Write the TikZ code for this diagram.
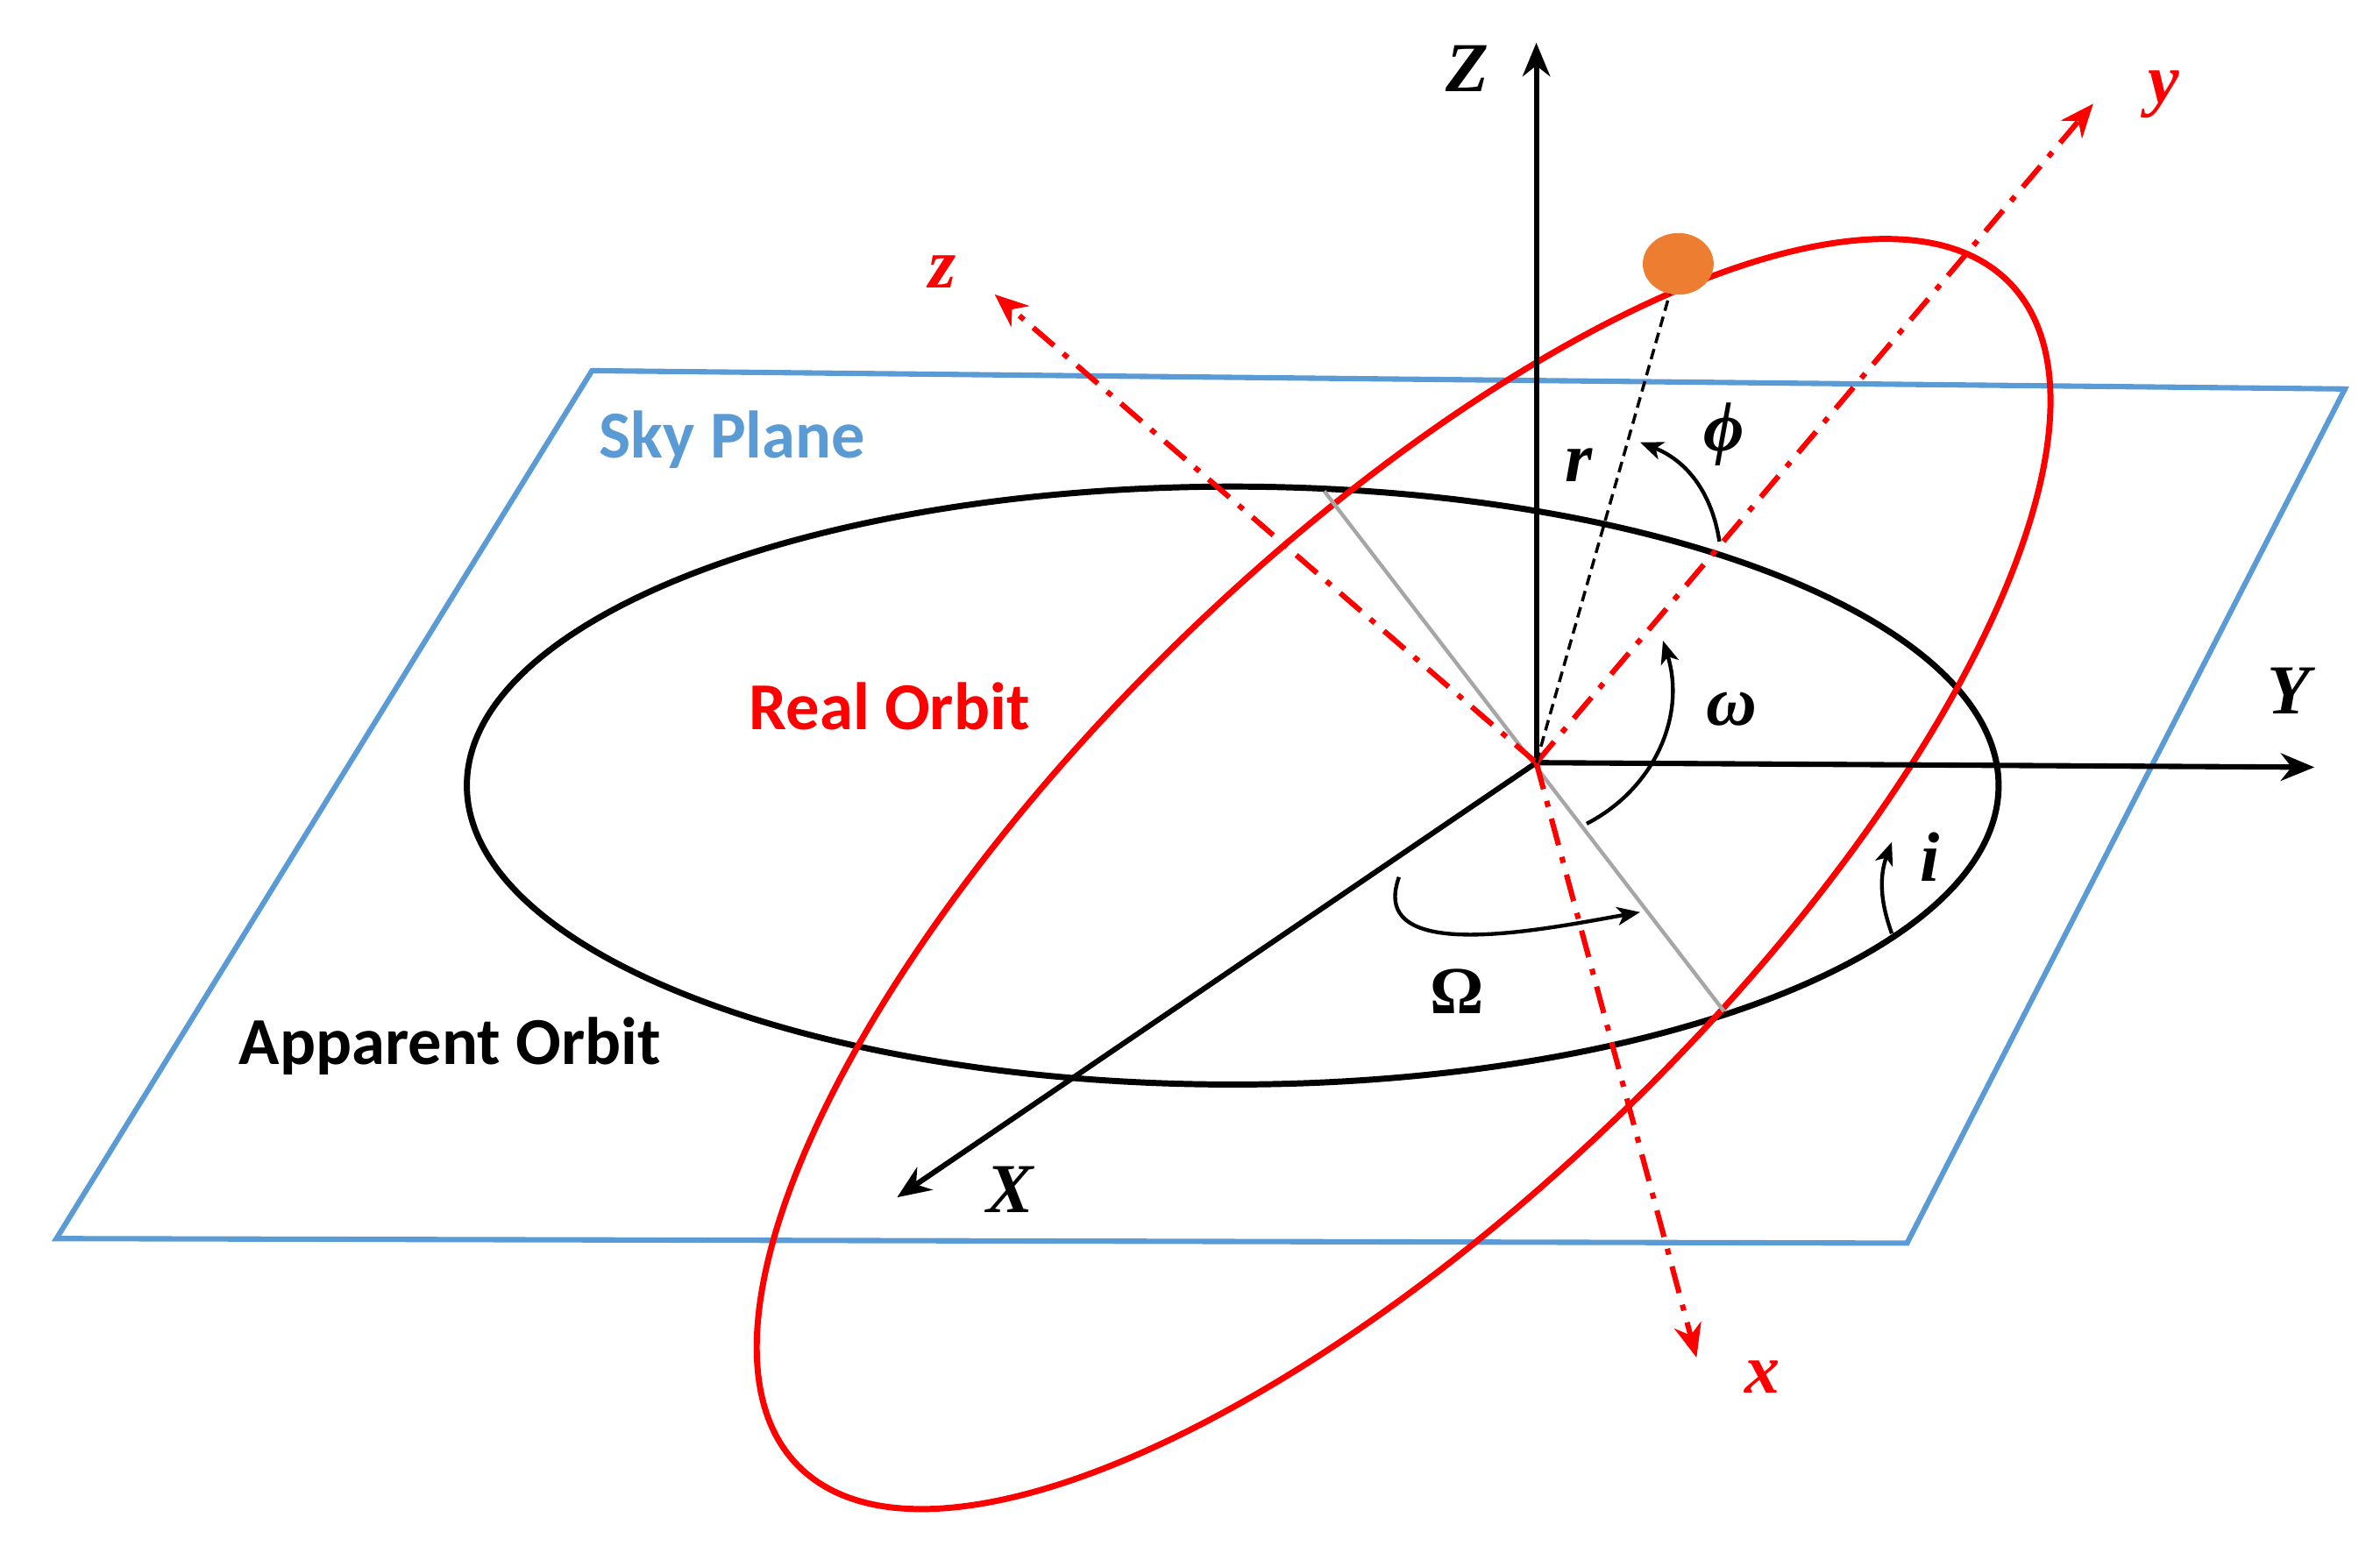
\documentclass[tikz,border=0pt]{standalone}
\usepackage{fontspec}
\setmainfont{Carlito}
\newfontfamily\gk{Liberation Serif}
\usetikzlibrary{arrows.meta,shapes.geometric}
\definecolor{skyb}{RGB}{91,155,213}
\definecolor{planet}{RGB}{237,125,49}
\begin{document}
\begin{tikzpicture}[x=1pt,y=-1pt,
  ax/.style={line width=3.5pt,-{Stealth[length=22pt,width=18pt,inset=7pt]}},
  rax/.style={red,line width=3.5pt,dash pattern=on 18pt off 8pt on 4pt off 8pt,-{Stealth[length=22pt,width=18pt,inset=7pt]}},
  ang/.style={line width=2.5pt,-{Stealth[length=15pt,width=12pt,inset=4pt]}},
  lab/.style={font=\gk\bfseries\itshape\fontsize{46}{46}\selectfont},
  txt/.style={font=\bfseries\fontsize{44}{44}\selectfont}]
\useasboundingbox (0,0) rectangle (1560,1013);
\coordinate (O) at (1007,500);
\draw[skyb,line width=3.5pt] (388,243) -- (1537,255) -- (1250,815) -- (37,812) -- cycle;
\draw[line width=4pt] (808,515) ellipse [x radius=502, y radius=196];
\draw[red,line width=4pt] (920,573) ellipse [x radius=555, y radius=212, rotate=44.3];
\coordinate (n1) at (868,322); \coordinate (n2) at (1130,663);
\draw[gray!70,line width=2.5pt] (n1) -- (n2);
\coordinate (Zt) at (1007,28); \coordinate (Yt) at (1517,503); \coordinate (Xt) at (588,785);
\draw[ax] (O) -- (Zt); \draw[ax] (O) -- (Yt); \draw[ax] (O) -- (Xt);
\node[lab] (Z) at (962,45) {Z};
\node[lab] (Y) at (1500,453) {Y};
\node[lab] (X) at (662,780) {X};
\coordinate (yt) at (1372,68); \coordinate (zt) at (652,193); \coordinate (xt) at (1112,890);
\draw[rax] (O) -- (yt); \draw[rax] (O) -- (zt); \draw[rax] (O) -- (xt);
\node[lab,red] (ly) at (1418,62) {y};
\node[lab,red] (lz) at (618,178) {z};
\node[lab,red] (lx) at (1155,903) {x};
\node[draw=planet,fill=planet,ellipse,minimum width=46pt,minimum height=40pt,inner sep=0pt] (P) at (1100,173) {};
\draw[line width=2pt,dash pattern=on 7pt off 4pt] (O) -- (P);
\node[lab] (r) at (1035,305) {r};
\node[lab] (phi) at (1130,285) {ϕ};
\draw[ang] (1127,355) to[bend right=30] (1075,290);
\draw[ang] (1040,540) to[bend right=40] (1090,420);
\node[lab] (om) at (1135,465) {ω};
\draw[ang] (1240,612) to[bend left=20] (1240,552);
\node[lab] (li) at (1265,562) {i};
\draw[ang] (917,575) to[out=250,in=190] (1075,598);
\node[font=\gk\bfseries\fontsize{44}{44}\selectfont] (Om) at (955,650) {Ω};
\node[txt,skyb] (sky) at (480,288) {Sky Plane};
\node[txt,red] (ro) at (583,463) {Real Orbit};
\node[txt] (ao) at (295,686) {Apparent Orbit};
\end{tikzpicture}
\end{document}
